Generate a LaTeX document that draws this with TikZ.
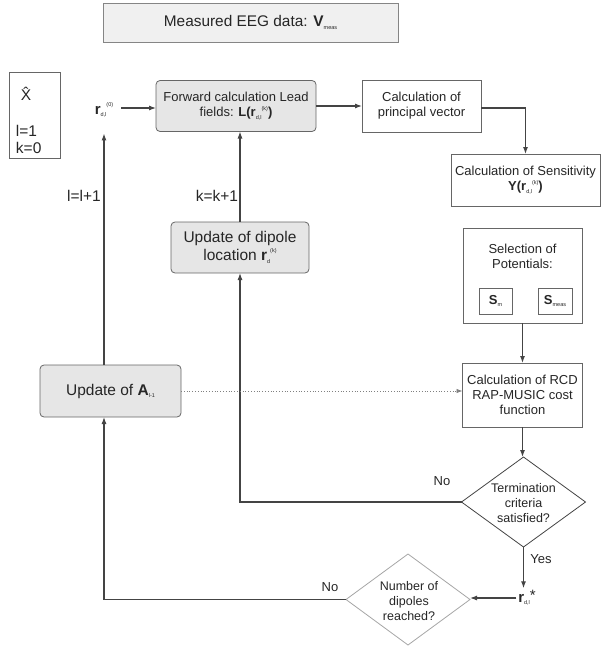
\documentclass[tikz,border=0pt]{standalone}
\usepackage{fontspec}
\setmainfont{Liberation Sans}
\usetikzlibrary{arrows.meta,shapes.geometric,calc}
\newcommand\mylo[1]{\raisebox{-0.35ex}{\fontsize{5.5}{6}\selectfont #1}}
\newcommand\myhi[1]{\raisebox{0.95ex}{\fontsize{5.5}{6}\selectfont #1}}
\definecolor{ln}{HTML}{444444}
\definecolor{bd}{HTML}{666666}
\definecolor{gf}{HTML}{E6E6E6}
\begin{document}
\begin{tikzpicture}[x=1pt,y=-1pt,
  every node/.style={inner sep=0pt, outer sep=0pt, text=black!85},
  txt/.style={font=\fontsize{13}{15}\selectfont, align=center},
  big/.style={font=\fontsize{15.5}{18}\selectfont, align=center},
  plainbox/.style={draw=bd, line width=0.8pt, fill=white, rectangle},
  graybox/.style={draw=bd, line width=0.8pt, fill=gf, rectangle, rounded corners=4pt},
  dia/.style={draw=ln, line width=0.8pt, diamond, fill=white},
  arr/.style={draw=ln, line width=1.1pt, -{Latex[length=7pt,width=5pt]}},
  ln/.style={draw=ln, line width=1.1pt},
]
\useasboundingbox (0,0) rectangle (602,648);

% top box
\node[draw=bd!80, line width=0.8pt, fill=gray!12, minimum width=295, minimum height=39,
      font=\fontsize{15.4}{18}\selectfont] (meas) at (250.5,22.5)
      {Measured EEG data: \textbf{V}\mylo{meas}};

% X box
\node[plainbox, minimum width=51, minimum height=86] (xbox) at (34.5,115) {};
\node[big] (xhat) at (26,94) {\^{X}};
\node[big, anchor=west] (l1) at (16,131) {l=1};
\node[big, anchor=west] (k0) at (16,148) {k=0};

% r0
\node[font=\fontsize{15}{18}\selectfont, inner sep=2pt] (r0) at (104,110) {\textbf{r}\mylo{d,l}\myhi{(0)}};

% forward
\node[graybox, txt, minimum width=160, minimum height=51] (fwd) at (236,106)
  {Forward calculation Lead\\fields: \textbf{L(r}\mylo{d,l}\myhi{(k)}\textbf{)}};

% principal vector
\node[plainbox, txt, minimum width=119, minimum height=52] (pv) at (421.5,106)
  {Calculation of\\principal vector};

% sensitivity
\node[plainbox, txt, minimum width=149, minimum height=52] (sens) at (525.5,180)
  {Calculation of Sensitivity\\\textbf{Y(r}\mylo{d,l}\myhi{(k)}\textbf{)}};

% selection
\node[plainbox, minimum width=119, minimum height=95] (sel) at (522.5,275.5) {};
\node[txt] (seltext) at (522.5,256) {Selection of\\Potentials:};
\node[plainbox, minimum width=33, minimum height=26, font=\fontsize{13}{15}\selectfont] (sm) at (495.5,301) {\textbf{S}\mylo{m}};
\node[plainbox, minimum width=34, minimum height=26, font=\fontsize{13}{15}\selectfont] (smeas) at (555,301) {\textbf{S}\mylo{meas}};

% RCD
\node[plainbox, txt, minimum width=120, minimum height=64] (rcd) at (522.5,395)
  {Calculation of RCD\\RAP-MUSIC cost\\function};

% termination diamond
\node[dia, minimum width=124, minimum height=90, inner sep=0pt] (term) at (523.5,502) {};
\node[txt, font=\fontsize{12.5}{15}\selectfont] (termtext) at (523.5,503) {Termination\\criteria\\satisfied?};

% update dipole
\node[graybox, big, minimum width=138, minimum height=51] (upd) at (240,247.5)
  {Update of dipole\\location \textbf{r}\mylo{d}\myhi{(k)}};

% update A
\node[graybox, big, minimum width=141, minimum height=52] (upA) at (110.5,391)
  {Update of \textbf{A}\mylo{l-1}};

% r star
\node[font=\fontsize{15}{18}\selectfont, inner sep=2pt] (rstar) at (527,598) {\textbf{r}\mylo{d,l}\raisebox{0.2ex}{*}};

% number diamond
\node[dia, draw=gray!70, minimum width=124, minimum height=91] (num) at (408,599.5) {};
\node[txt, font=\fontsize{12.5}{15}\selectfont] (numtext) at (409,601) {Number of\\dipoles\\reached?};

% labels
\node[big] (lab1) at (84,196) {l=l+1};
\node[big] (lab2) at (217,196) {k=k+1};
\node[txt] (no1) at (442,481) {No};
\node[txt] (yes) at (541,559) {Yes};
\node[txt] (no2) at (330,587) {No};

% connectors
\draw[arr] (r0.east) ++(6,-2) coordinate (r0e) (r0e) -- (r0e -| fwd.west);
\draw[arr] (fwd.east) -- (pv.west);
\draw[arr] ([yshift=-2]pv.east) -| (sens.north);
\draw[arr] (sel.south) -- (sel.south |- rcd.north);
\draw[arr] (rcd.south) -- (rcd.south |- term.north);
\draw[ln, -{Latex[length=7pt,width=5pt]}] (term.west) -| (upd.south);
\draw[arr] (upd.north) -- (upd.north |- fwd.south);
\draw[arr] (term.south) -- (term.south |- rstar.north);
\draw[arr] (rstar.west) -- (rstar.west -| num.east);
\draw[arr] (num.west) -| (upA.south -| r0.south);
\draw[arr, shorten >=14pt] (upA.north -| r0.south) -- (r0.south);
\draw[draw=gray, line width=0.8pt, dotted, -{Latex[length=6pt,width=4.5pt]}] (upA.east) -- (upA.east -| rcd.west);
\end{tikzpicture}
\end{document}
